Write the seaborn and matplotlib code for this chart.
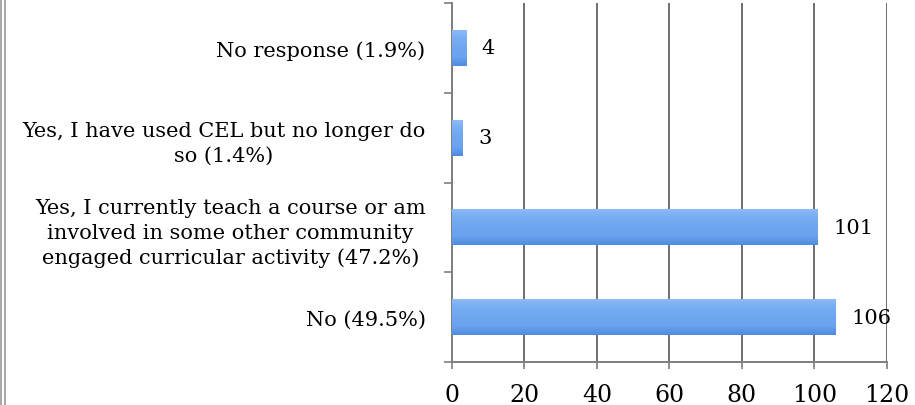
import matplotlib
matplotlib.use("Agg")
import matplotlib.pyplot as plt
from matplotlib.lines import Line2D
from matplotlib.colors import LinearSegmentedColormap
import seaborn as sns
import pandas as pd
import numpy as np

categories = [
    "No response (1.9%)",
    "Yes, I have used CEL but no longer do\nso (1.4%)",
    "Yes, I currently teach a course or am\ninvolved in some other community\nengaged curricular activity (47.2%)",
    "No (49.5%)",
]
counts = [4, 3, 101, 106]
x_ticks = [0, 20, 40, 60, 80, 100, 120]

df = pd.DataFrame({"category": categories, "count": counts})

sns.set_style("white")
plt.rcParams["font.family"] = ["DejaVu Serif"]

fig = plt.figure(figsize=(9.15, 4.06), dpi=100)
ax = fig.add_axes([0.494, 0.106, 0.475, 0.884])

sns.barplot(data=df, y="category", x="count", orient="h", color="#6ea6f0",
            saturation=1, width=0.4, linewidth=0, ax=ax, zorder=3)

# vertical shading on each bar, a bit lighter on top and darker underneath
shade = LinearSegmentedColormap.from_list(
    "bar", ["#4f8ce0", "#6aa3ef", "#6ea6f0", "#76acf2", "#8bbaf6"])
grad = np.linspace(0, 1, 64).reshape(-1, 1)
for p in ax.patches:
    x0, y0 = p.get_x(), p.get_y()
    w, h = p.get_width(), p.get_height()
    im = ax.imshow(grad, cmap=shade, aspect="auto", zorder=3.5,
                   extent=[x0, x0 + w, y0 + h, y0], origin="lower")
    im.set_clip_path(p)

for p, v in zip(ax.patches, counts):
    ax.text(p.get_width() + 4.2, p.get_y() + p.get_height() / 2, str(v),
            va="center", ha="left", fontsize=15, color="black", zorder=4)

ax.set_xlim(0, 120)
ax.set_ylim(3.5, -0.5)
ax.set_xticks(x_ticks)
ax.xaxis.grid(True, color="#6f6f6f", linewidth=1.4, zorder=0)
ax.yaxis.grid(False)
ax.set_axisbelow(True)
ax.set_xlabel("")
ax.set_ylabel("")

# ticks on the left sit between categories
ax.set_yticks(np.arange(-0.5, 4, 1.0), minor=True)
ax.tick_params(axis="y", which="minor", length=6, width=1.2, color="#7f7f7f", left=True)
ax.tick_params(axis="y", which="major", length=0, pad=19, labelsize=15,
               labelcolor="black")
ax.tick_params(axis="x", length=5, width=1.2, color="#7f7f7f", bottom=True,
               pad=10, labelsize=17, labelcolor="black")
for lbl in ax.get_yticklabels():
    lbl.set_multialignment("center")
    lbl.set_linespacing(1.4)

for side in ["top", "right"]:
    ax.spines[side].set_visible(False)
for side in ["left", "bottom"]:
    ax.spines[side].set_color("#7f7f7f")
    ax.spines[side].set_linewidth(1.4)

# frame edge at the left of the picture
fig.add_artist(Line2D([0.0015, 0.0015], [0, 1], color="#9a9a9a", lw=1.2))
fig.add_artist(Line2D([0.005, 0.005], [0, 1], color="#9a9a9a", lw=1.2))

fig.savefig("out.png", dpi=100)
